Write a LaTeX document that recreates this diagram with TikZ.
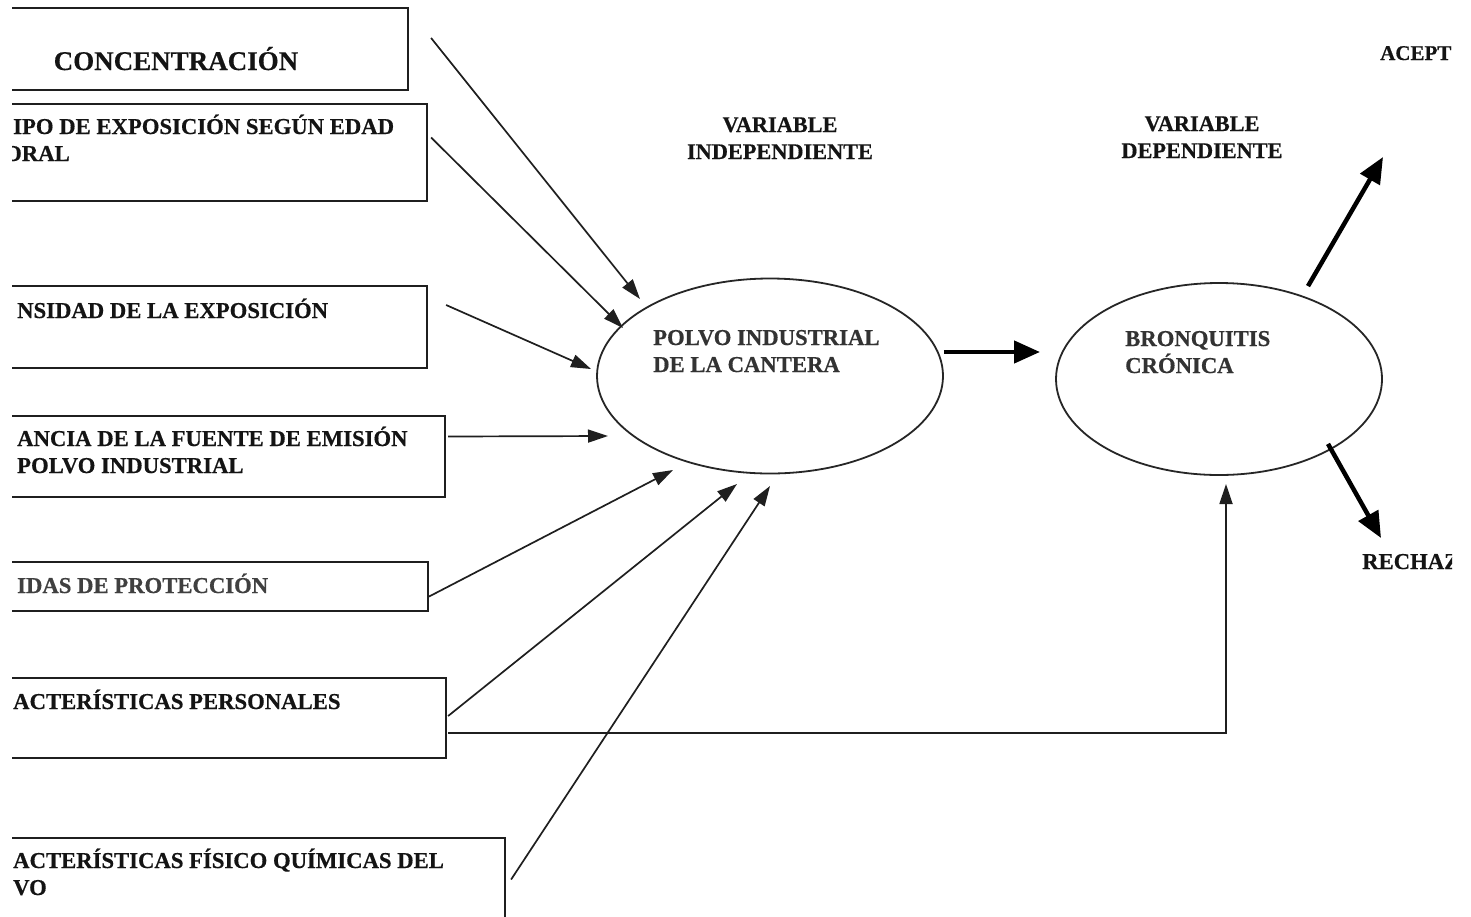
\documentclass[tikz,border=0pt]{standalone}
\usepackage{fontspec}
\setmainfont{Liberation Serif}[BoldFeatures={FakeBold=0.5}]
\usetikzlibrary{arrows.meta,shapes.geometric}
\newcommand\lefttwo[2]{\vtop{\hbox{#1}\hbox{#2}}}
\newcommand\centwo[2]{\vtop{\halign{\hfil##\hfil\cr#1\cr#2\cr}}}
\begin{document}
\begin{tikzpicture}[x=1pt,y=-1pt,
  box/.style={draw=black!88,line width=2.2pt,inner sep=0pt,rectangle},
  oval/.style={ellipse,draw=black!85,line width=1.8pt,inner sep=0pt},
  txt/.style={font=\fontsize{22.7pt}{27pt}\selectfont\bfseries,inner sep=0pt,anchor=base west,text=black!92},
  ctxt/.style={txt,font=\fontsize{22.3pt}{27pt}\selectfont\bfseries,anchor=base},
  thin/.style={draw=black!88,line width=1.7pt,-{Triangle[length=20pt,width=13pt]}},
  thick/.style={draw=black,line width=4.5pt,-{Triangle[length=26pt,width=22pt]}}
]
\useasboundingbox (0,0) rectangle (1471,916);
\fill[white] (0,0) rectangle (1471,916);
\clip (12,0) rectangle (1452,916);

% boxes
\node[box,minimum width=413pt,minimum height=82pt] (b1) at (201.5,49) {};
\node[box,minimum width=432pt,minimum height=97pt] (b2) at (211,152.5) {};
\node[box,minimum width=432pt,minimum height=82pt] (b3) at (211,327) {};
\node[box,minimum width=450pt,minimum height=81pt] (b4) at (220,456.5) {};
\node[box,minimum width=433pt,minimum height=49pt] (b5) at (211.5,586.5) {};
\node[box,minimum width=451pt,minimum height=80pt] (b6) at (220.5,718) {};
\node[box,minimum width=510pt,minimum height=97pt] (b7) at (250,886.5) {};

% box texts
\node[txt,font=\fontsize{27pt}{32pt}\selectfont\bfseries,anchor=base] (t1) at (176,70) {CONCENTRACIÓN};
\node[txt] (t2) at (13,134) {\lefttwo{IPO DE EXPOSICIÓN SEGÚN EDAD}{\kern-9pt ORAL}};
\node[txt] (t3) at (17,318) {NSIDAD DE LA EXPOSICIÓN};
\node[txt] (t4) at (17,446) {\lefttwo{ANCIA DE LA FUENTE DE EMISIÓN}{POLVO INDUSTRIAL}};
\node[txt,text=black!75] (t5) at (17,593) {IDAS DE PROTECCIÓN};
\node[txt] (t6) at (13,709) {ACTERÍSTICAS PERSONALES};
\node[txt] (t7) at (13,868) {\lefttwo{ACTERÍSTICAS FÍSICO QUÍMICAS DEL}{VO}};

% ellipses
\node[oval,minimum width=346pt,minimum height=195pt] (e1) at (770,376) {};
\node[oval,minimum width=326pt,minimum height=192pt] (e2) at (1219,379) {};
\node[txt,text=black!80] (e1t) at (653,345) {\lefttwo{POLVO INDUSTRIAL}{DE LA CANTERA}};
\node[txt,text=black!80] (e2t) at (1125,346) {\lefttwo{BRONQUITIS}{CRÓNICA}};

% headings
\node[ctxt] (vi) at (780,132) {\centwo{VARIABLE}{INDEPENDIENTE}};
\node[ctxt] (vd) at (1202,131) {\centwo{VARIABLE}{DEPENDIENTE}};
\node[txt,font=\fontsize{21pt}{26pt}\selectfont\bfseries] (ac) at (1380,60) {ACEPT};
\node[txt] (re) at (1362,569) {RECHAZ};

% arrow end points
\coordinate (p1) at (640,299);
\coordinate (p2) at (623,328);
\coordinate (p3) at (591,369);
\coordinate (p4) at (608,436);
\coordinate (p5) at (673,470);
\coordinate (p6) at (737,484);
\coordinate (p7) at (770,486);
\coordinate (p8) at (1226,484);
\coordinate (q1) at (1040,352);
\coordinate (q2) at (1383,157);
\coordinate (q3) at (1381,538);

% thin arrows
\draw[thin] ([shift={(22,-11)}]b1.east) -- (p1);
\draw[thin] ([shift={(3,-15)}]b2.east) -- (p2);
\draw[thin] ([shift={(18,-22)}]b3.east) -- (p3);
\draw[thin] ([shift={(2,-20)}]b4.east) -- (p4);
\draw[thin] ([shift={(0,10)}]b5.east) -- (p5);
\draw[thin] ([shift={(1,-2)}]b6.east) -- (p6);
\draw[thin] ([shift={(5,-7)}]b7.east) -- (p7);
\draw[thin] ([shift={(1,15)}]b6.east) -| (p8);

% thick arrows
\draw[thick] ([shift={(0,-24)}]e1.east) -- (q1);
\draw[thick] ([shift={(89,4)}]e2.north) -- (q2);
\draw[thick] ([shift={(109,-32)}]e2.south) -- (q3);
\end{tikzpicture}
\end{document}
